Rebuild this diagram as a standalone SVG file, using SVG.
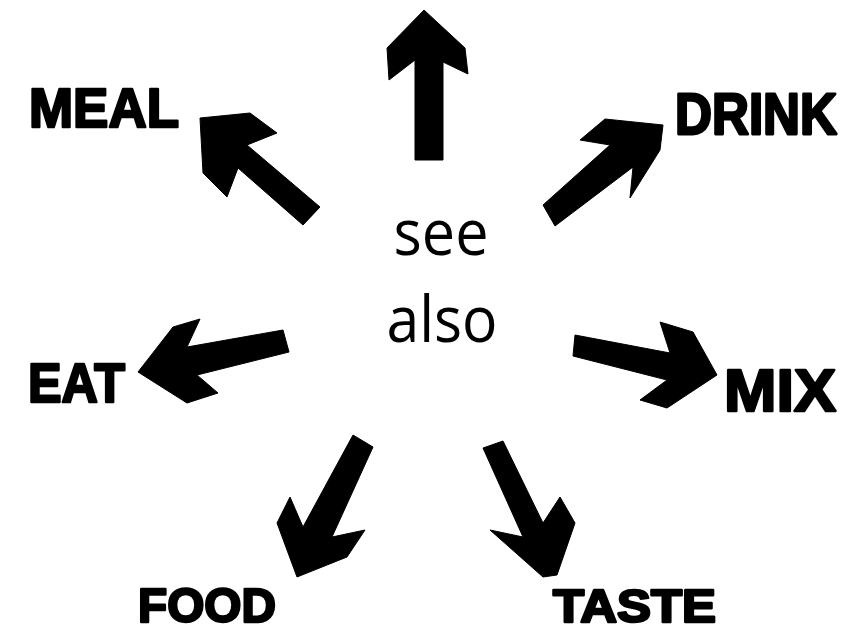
<svg xmlns="http://www.w3.org/2000/svg" width="850" height="632" viewBox="0 0 850 632">
<style>
.lbl{font-family:"Liberation Sans",Arial,sans-serif;font-weight:bold;fill:#000;stroke:#000;stroke-width:2.5;stroke-linejoin:round}
.ctr{font-family:"Open Sans","Noto Sans",sans-serif;font-size:64px;fill:#000;text-anchor:middle}
.arr{fill:#000;stroke:#000;stroke-width:1;stroke-linejoin:round}
</style>
<rect width="850" height="632" fill="#fff"/>
<g id="connectors">
<polygon class="arr" points="424,10 465,48 468,74 443,62 443,160 415,160 415,60 389,80 387,48"/>
<polygon class="arr" points="200,118 250,113 277,133 247,145 320,207 303,225 238,168 227,197 203,173"/>
<polygon class="arr" points="543,205 610,145 580,140 605,119 663,125 660,150 630,198 633,167 555,226"/>
<polygon class="arr" points="138,372 173,327 200,319 187,347 283,330 289,352 197,375 218,393 187,403"/>
<polygon class="arr" points="575,335 670,353 660,322 693,332 717,375 667,408 640,400 667,380 573,356"/>
<polygon class="arr" points="353,435 373,447 332,537 365,530 347,557 297,577 277,523 290,497 303,527"/>
<polygon class="arr" points="483,448 503,441 543,523 560,497 575,523 557,575 543,577 490,530 523,537"/>
</g>
<g id="center">
<text class="ctr" x="441" y="255" textLength="95" lengthAdjust="spacingAndGlyphs">see</text>
<text class="ctr" x="442" y="342" textLength="111" lengthAdjust="spacingAndGlyphs">also</text>
</g>
<g id="meal"><text class="lbl" x="29" y="127" font-size="55" textLength="150" lengthAdjust="spacingAndGlyphs">MEAL</text></g>
<g id="drink"><text class="lbl" transform="translate(675,134) scale(1,1.12)" x="0" y="0" font-size="52" textLength="162" lengthAdjust="spacingAndGlyphs">DRINK</text></g>
<g id="eat"><text class="lbl" x="28" y="402" font-size="56" textLength="97" lengthAdjust="spacingAndGlyphs">EAT</text></g>
<g id="mix"><text class="lbl" x="724" y="411" font-size="60" textLength="112" lengthAdjust="spacingAndGlyphs">MIX</text></g>
<g id="food"><text class="lbl" x="138" y="622" font-size="49" textLength="138" lengthAdjust="spacingAndGlyphs">FOOD</text></g>
<g id="taste"><text class="lbl" x="553" y="622" font-size="46" textLength="163" lengthAdjust="spacingAndGlyphs">TASTE</text></g>
</svg>
